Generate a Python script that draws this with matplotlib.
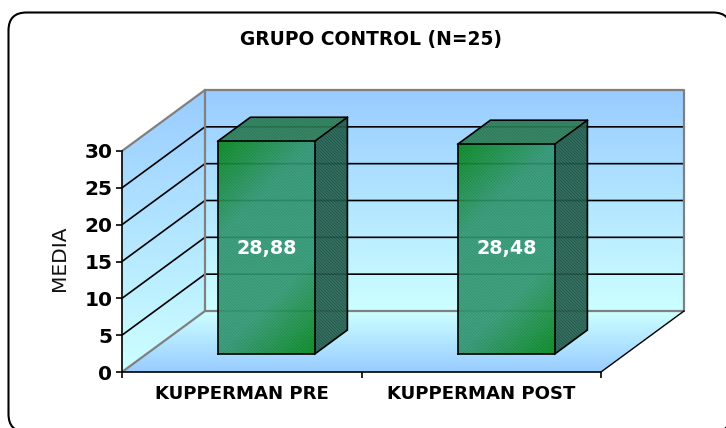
import numpy as np
import matplotlib
matplotlib.use('Agg')
import matplotlib.pyplot as plt
from matplotlib.colors import to_rgb
from matplotlib.patches import FancyBboxPatch, Polygon

categories = ['KUPPERMAN PRE', 'KUPPERMAN POST']
values = [28.88, 28.48]
value_labels = ['28,88', '28,48']
y_ticks = [0, 5, 10, 15, 20, 25, 30]

W, H = 726, 428
fig = plt.figure(figsize=(W / 100, H / 100), dpi=100)

# outer rounded frame, in pixels (runs off the right and bottom edge)
bg = fig.add_axes([0, 0, 1, 1])
bg.set_xlim(0, W)
bg.set_ylim(H, 0)
bg.axis('off')
bg.add_patch(FancyBboxPatch((8.5, 12.5), 722.5, 419.5, boxstyle='round,pad=0,rounding_size=18',
                            fc='white', ec='black', lw=1.5, clip_on=True))

# front plane of the 3d box, value coordinates
L, R, T, B = 122, 601, 151, 372
ax = fig.add_axes([L / W, 1 - B / H, (R - L) / W, (B - T) / H])
ax.patch.set_alpha(0)
for s in ['top', 'right']:
    ax.spines[s].set_visible(False)
for s in ['left', 'bottom']:
    ax.spines[s].set_color('black')
    ax.spines[s].set_linewidth(1.2)
    ax.spines[s].set_zorder(20)

ddx = 83 / ((R - L) / 2)   # depth offset in category units
ddy = 61 / ((B - T) / 30)  # depth offset in value units
top_val = y_ticks[-1]


def grad_poly(pts, img, z, extent=None, interp='bilinear'):
    pts = np.array(pts)
    if extent is None:
        extent = [pts[:, 0].min(), pts[:, 0].max(), pts[:, 1].min(), pts[:, 1].max()]
    im = ax.imshow(img, extent=extent, origin='lower', aspect='auto', zorder=z, interpolation=interp)
    im.set_clip_box(fig.bbox)
    im.set_clip_path(Polygon(pts, closed=True, transform=ax.transData))


def lerp(c1, c2, t):
    c1 = np.array(to_rgb(c1))
    c2 = np.array(to_rgb(c2))
    return c1 + (c2 - c1) * t[..., None]


def striped(color, nx, ny, stripe, alpha=0.92):
    yy, xx = np.mgrid[0:ny, 0:nx]
    rgb = np.ones((ny, nx, 3)) * np.array(to_rgb(color))
    rgb = np.clip(rgb - ((xx + yy) % 3 == 0)[..., None] * stripe, 0, 1)
    return np.dstack([rgb, np.full((ny, nx), alpha)])


def front_texture(nx, ny, c_face, c_corner, stripe=0.05, alpha=0.92):
    yy, xx = np.mgrid[0:ny, 0:nx]
    tl = np.clip(1 - (xx + (ny - 1 - yy)) / 95, 0, 1)
    br = np.clip(1 - ((nx - 1 - xx) + yy) / 95, 0, 1)
    rgb = lerp(c_face, c_corner, np.maximum(tl, br))
    rgb = np.clip(rgb - ((xx + yy) % 3 == 0)[..., None] * stripe, 0, 1)
    return np.dstack([rgb, np.full((ny, nx), alpha)])


light, blue = '#CCFFFF', '#99CCFF'
t = np.linspace(0, 1, 100).reshape(-1, 1)
wall = lerp(light, blue, t)

# back wall
grad_poly([(ddx, ddy), (2 + ddx, ddy), (2 + ddx, top_val + ddy), (ddx, top_val + ddy)], wall, 1)
# side wall
grad_poly([(0, 0), (ddx, ddy), (ddx, top_val + ddy), (0, top_val)], wall, 1,
          extent=[0, ddx, 0, top_val + ddy])
# floor
grad_poly([(0, 0), (2, 0), (2 + ddx, ddy), (ddx, ddy)], lerp(blue, light, t), 1)

# grid lines on the walls
for v in y_ticks[1:-1]:
    ax.plot([0, ddx, 2 + ddx], [v, v + ddy, v + ddy], color='black', lw=1.2, zorder=2, clip_on=False)

# grey wall outline
grey = '#808080'
ax.plot([0, ddx, 2 + ddx, 2 + ddx, ddx, ddx], [top_val, top_val + ddy, top_val + ddy, ddy, ddy, top_val + ddy],
        color=grey, lw=1.6, zorder=3, clip_on=False)
ax.plot([0, ddx], [0, ddy], color=grey, lw=1.6, zorder=3, clip_on=False)
ax.plot([2, 2 + ddx], [0, ddy], color='black', lw=1.0, zorder=3, clip_on=False)

# bars
bar_w = 97 / ((R - L) / 2)
f0 = 18 / 61   # how far back the bar sits on the floor
f1 = 24 / 61   # bar depth

for i, val in enumerate(values):
    x0 = i * 240 / 239.5 + 0.5 - bar_w / 2 + f0 * ddx
    x1 = x0 + bar_w
    y0 = f0 * ddy
    y1 = y0 + val
    dx = f1 * ddx
    dy = f1 * ddy

    # front
    grad_poly([(x0, y0), (x1, y0), (x1, y1), (x0, y1)], front_texture(97, 213, '#359872', '#0B8A1E'), 5,
              interp='nearest')
    # top face
    grad_poly([(x0, y1), (x1, y1), (x1 + dx, y1 + dy), (x0 + dx, y1 + dy)], striped('#2F7E58', 130, 24, 0.05), 5,
              interp='nearest')
    # side face
    grad_poly([(x1, y0), (x1 + dx, y0 + dy), (x1 + dx, y1 + dy), (x1, y1)], striped('#28604F', 33, 237, 0.07), 5,
              interp='nearest')

    # edges
    ax.plot([x0, x1, x1, x0, x0], [y0, y0, y1, y1, y0], color='black', lw=1.2, zorder=7, clip_on=False)
    ax.plot([x0, x0 + dx, x1 + dx, x1 + dx, x1], [y1, y1 + dy, y1 + dy, y0 + dy, y0], color='black', lw=1.2,
            zorder=7, clip_on=False)
    ax.plot([x1, x1 + dx], [y1, y1 + dy], color='black', lw=1.2, zorder=7, clip_on=False)

    ax.text((x0 + x1) / 2, 16.7, value_labels[i], color='white', fontweight='bold', fontsize=13.8,
            ha='center', va='center', zorder=8)

ax.set_xlim(0, 2)
ax.set_ylim(0, 30)
ax.set_xticks([0, 1, 2])
ax.set_xticklabels([])
ax.set_yticks(y_ticks)
ax.tick_params(axis='y', labelsize=14.5, length=4, width=1.2, pad=3)
ax.tick_params(axis='x', length=4, width=1.2, direction='out')
for lab in ax.get_yticklabels():
    lab.set_fontweight('bold')

for i, name in enumerate(categories):
    ax.text(i + 0.5, -3.0, name, ha='center', va='center', fontweight='bold', fontsize=13.1)

ax.set_ylabel('MEDIA', fontsize=14.5, color='#111111')
ax.yaxis.set_label_coords(-53 / (R - L), 0.515)
fig.text(371 / W, 1 - 39 / H, 'GRUPO CONTROL (N=25)', ha='center', va='center',
         fontweight='bold', fontsize=13.4)

fig.savefig('out.png', dpi=100)
